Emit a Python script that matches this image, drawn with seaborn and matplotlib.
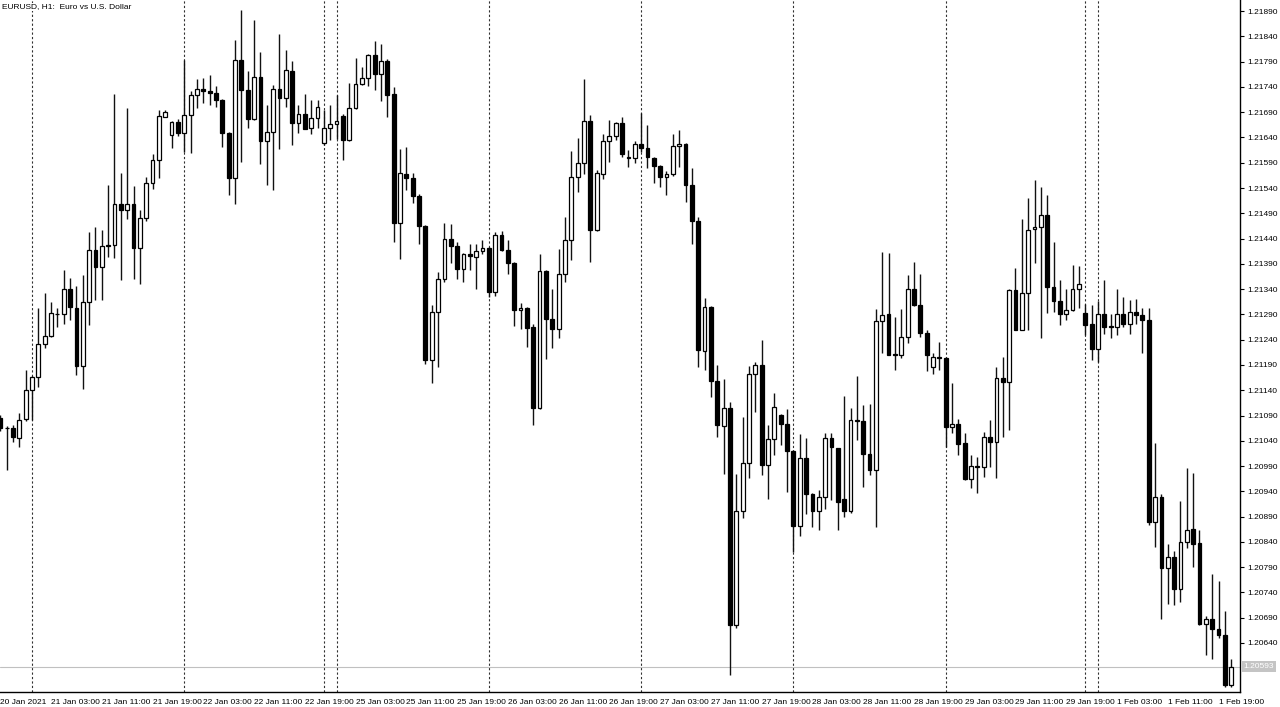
import matplotlib
matplotlib.use("Agg")
import matplotlib.pyplot as plt
import matplotlib.transforms as mtransforms
import seaborn as sns
import numpy as np

# ---------------- data (EURUSD H1, 20 Jan 2021 19:00 -> 1 Feb 2021 21:00) ----------------
opens = [
 1.21085,1.21065,1.21065,1.21045,1.21083,1.21140,1.21167,1.21231,1.21247,1.21290,
 1.21290,1.21340,1.21303,1.21188,1.21314,1.21417,1.21384,1.21425,1.21427,1.21508,
 1.21496,1.21508,1.21421,1.21481,1.21549,1.21595,1.21681,1.21645,1.21670,1.21648,
 1.21684,1.21725,1.21736,1.21732,1.21728,1.21714,1.21648,1.21560,1.21793,1.21733,
 1.21677,1.21760,1.21634,1.21650,1.21736,1.21719,1.21772,1.21668,1.21686,1.21658,
 1.21678,1.21630,1.21658,1.21666,1.21682,1.21636,1.21698,1.21745,1.21757,1.21803,
 1.21766,1.21791,1.21726,1.21470,1.21568,1.21560,1.21524,1.21465,1.21200,1.21295,
 1.21360,1.21439,1.21425,1.21380,1.21409,1.21404,1.21416,1.21422,1.21335,1.21448,
 1.21417,1.21391,1.21298,1.21303,1.21266,1.21105,1.21376,1.21281,1.21262,1.21370,
 1.21438,1.21561,1.21589,1.21672,1.21457,1.21568,1.21633,1.21643,1.21669,1.21601,
 1.21600,1.21627,1.21620,1.21600,1.21584,1.21561,1.21568,1.21623,1.21627,1.21546,
 1.21475,1.21218,1.21304,1.21159,1.21070,1.21104,1.20675,1.20902,1.20996,1.21172,
 1.21190,1.20993,1.21043,1.21091,1.21074,1.21020,1.20872,1.21006,1.20935,1.20902,
 1.20929,1.21045,1.21025,1.20925,1.20902,1.21082,1.21080,1.21014,1.20983,1.21277,
 1.21290,1.21211,1.21210,1.21245,1.21340,1.21308,1.21254,1.21185,1.21205,1.21203,
 1.21067,1.21074,1.21035,1.20964,1.20990,1.20988,1.21047,1.21037,1.21165,1.21157,
 1.21338,1.21260,1.21332,1.21458,1.21462,1.21487,1.21345,1.21316,1.21290,1.21299,
 1.21341,1.21292,1.21271,1.21221,1.21291,1.21266,1.21265,1.21290,1.21272,1.21295,
 1.21288,1.21278,1.20880,1.20929,1.20788,1.20811,1.20746,1.20840,1.20866,1.20837,
 1.20677,1.20687,1.20668,1.20655,1.20557]
highs = [
 1.21091,1.21069,1.21071,1.21095,1.21180,1.21169,1.21302,1.21333,1.21315,1.21302,
 1.21377,1.21363,1.21346,1.21367,1.21453,1.21463,1.21457,1.21546,1.21727,1.21569,
 1.21698,1.21544,1.21496,1.21561,1.21608,1.21694,1.21694,1.21673,1.21676,1.21793,
 1.21732,1.21755,1.21757,1.21763,1.21742,1.21716,1.21650,1.21833,1.21892,1.21772,
 1.21872,1.21810,1.21704,1.21744,1.21845,1.21813,1.21791,1.21704,1.21727,1.21714,
 1.21714,1.21694,1.21704,1.21724,1.21686,1.21748,1.21798,1.21779,1.21806,1.21831,
 1.21824,1.21795,1.21740,1.21618,1.21622,1.21570,1.21528,1.21467,1.21308,1.21374,
 1.21470,1.21469,1.21434,1.21411,1.21430,1.21430,1.21438,1.21424,1.21453,1.21455,
 1.21438,1.21393,1.21312,1.21305,1.21271,1.21409,1.21378,1.21341,1.21419,1.21483,
 1.21613,1.21639,1.21755,1.21684,1.21575,1.21646,1.21674,1.21671,1.21680,1.21615,
 1.21633,1.21688,1.21664,1.21602,1.21586,1.21574,1.21647,1.21655,1.21629,1.21579,
 1.21482,1.21322,1.21306,1.21190,1.21163,1.21117,1.20974,1.21088,1.21188,1.21196,
 1.21239,1.21071,1.21135,1.21093,1.21102,1.21022,1.21053,1.21046,1.20937,1.20942,
 1.21056,1.21056,1.21026,1.21129,1.21104,1.21168,1.21111,1.21112,1.21300,1.21414,
 1.21411,1.21285,1.21300,1.21368,1.21394,1.21370,1.21260,1.21214,1.21236,1.21205,
 1.21154,1.21084,1.21056,1.21012,1.21008,1.21058,1.21082,1.21186,1.21205,1.21340,
 1.21381,1.21478,1.21520,1.21556,1.21542,1.21527,1.21434,1.21359,1.21341,1.21388,
 1.21386,1.21310,1.21308,1.21316,1.21359,1.21290,1.21341,1.21325,1.21318,1.21320,
 1.21302,1.21302,1.21036,1.20935,1.20836,1.20821,1.20921,1.20986,1.20977,1.20863,
 1.20693,1.20776,1.20763,1.20704,1.20608]
lows = [
 1.21059,1.20982,1.21037,1.21027,1.21080,1.21081,1.21147,1.21223,1.21245,1.21265,
 1.21272,1.21279,1.21170,1.21142,1.21269,1.21318,1.21318,1.21404,1.21401,1.21358,
 1.21478,1.21361,1.21351,1.21475,1.21539,1.21559,1.21680,1.21620,1.21643,1.21612,
 1.21610,1.21698,1.21708,1.21705,1.21701,1.21622,1.21526,1.21508,1.21592,1.21659,
 1.21674,1.21587,1.21546,1.21537,1.21617,1.21701,1.21626,1.21649,1.21656,1.21646,
 1.21658,1.21625,1.21635,1.21637,1.21595,1.21634,1.21696,1.21743,1.21742,1.21734,
 1.21712,1.21681,1.21434,1.21400,1.21536,1.21510,1.21430,1.21192,1.21154,1.21186,
 1.21355,1.21391,1.21361,1.21355,1.21378,1.21341,1.21410,1.21325,1.21326,1.21415,
 1.21369,1.21268,1.21262,1.21226,1.21072,1.21102,1.21202,1.21223,1.21243,1.21355,
 1.21398,1.21533,1.21567,1.21393,1.21455,1.21558,1.21591,1.21636,1.21602,1.21582,
 1.21589,1.21611,1.21579,1.21549,1.21542,1.21526,1.21564,1.21582,1.21513,1.21430,
 1.21186,1.21181,1.21127,1.21048,1.20974,1.20577,1.20669,1.20887,1.20967,1.21097,
 1.20972,1.20924,1.21012,1.21031,1.20939,1.20820,1.20852,1.20896,1.20869,1.20863,
 1.20906,1.20923,1.20863,1.20890,1.20898,1.21041,1.20949,1.20972,1.20870,1.21213,
 1.21209,1.21180,1.21203,1.21233,1.21307,1.21246,1.21178,1.21173,1.21180,1.21028,
 1.21055,1.21012,1.20963,1.20946,1.20936,1.20969,1.20989,1.20966,1.21048,1.21061,
 1.21259,1.21259,1.21259,1.21391,1.21243,1.21292,1.21295,1.21269,1.21279,1.21297,
 1.21302,1.21249,1.21200,1.21196,1.21252,1.21243,1.21250,1.21266,1.21252,1.21272,
 1.21213,1.20873,1.20829,1.20687,1.20718,1.20715,1.20722,1.20827,1.20791,1.20675,
 1.20616,1.20608,1.20649,1.20552,1.20553]
closes = [
 1.21065,1.21066,1.21048,1.21082,1.21140,1.21167,1.21231,1.21247,1.21292,1.21291,
 1.21340,1.21305,1.21188,1.21314,1.21417,1.21384,1.21425,1.21427,1.21508,1.21496,
 1.21508,1.21421,1.21480,1.21549,1.21595,1.21682,1.21690,1.21670,1.21648,1.21684,
 1.21725,1.21735,1.21732,1.21728,1.21714,1.21648,1.21560,1.21793,1.21734,1.21676,
 1.21760,1.21633,1.21650,1.21736,1.21719,1.21773,1.21668,1.21686,1.21657,1.21678,
 1.21701,1.21658,1.21666,1.21672,1.21636,1.21698,1.21745,1.21757,1.21803,1.21765,
 1.21791,1.21725,1.21470,1.21569,1.21560,1.21524,1.21465,1.21200,1.21295,1.21361,
 1.21440,1.21425,1.21379,1.21409,1.21406,1.21416,1.21421,1.21335,1.21448,1.21417,
 1.21391,1.21299,1.21303,1.21264,1.21104,1.21376,1.21280,1.21262,1.21370,1.21438,
 1.21561,1.21590,1.21673,1.21457,1.21569,1.21633,1.21643,1.21669,1.21608,1.21599,
 1.21627,1.21620,1.21602,1.21584,1.21562,1.21568,1.21623,1.21627,1.21546,1.21475,
 1.21220,1.21304,1.21159,1.21071,1.21104,1.20675,1.20902,1.20996,1.21172,1.21190,
 1.20992,1.21043,1.21107,1.21074,1.21020,1.20872,1.21006,1.20935,1.20902,1.20929,
 1.21045,1.21027,1.20919,1.20902,1.21082,1.21080,1.21014,1.20982,1.21277,1.21289,
 1.21210,1.21209,1.21245,1.21340,1.21308,1.21254,1.21210,1.21205,1.21204,1.21067,
 1.21074,1.21034,1.20964,1.20990,1.20989,1.21048,1.21038,1.21165,1.21157,1.21338,
 1.21260,1.21332,1.21457,1.21463,1.21487,1.21345,1.21316,1.21290,1.21299,1.21341,
 1.21350,1.21270,1.21221,1.21290,1.21266,1.21265,1.21290,1.21272,1.21295,1.21288,
 1.21279,1.20880,1.20929,1.20788,1.20811,1.20746,1.20840,1.20863,1.20836,1.20677,
 1.20687,1.20668,1.20656,1.20557,1.20593]

# time-axis labels (every 8th hourly bar) and period separators (bar index)
tick_bars = [0, 8, 16, 24, 32, 40, 48, 56, 64, 72, 80, 88, 96, 104, 112, 120,
             128, 136, 144, 152, 160, 168, 176, 184, 192]
tick_labels = ["20 Jan 2021", "21 Jan 03:00", "21 Jan 11:00", "21 Jan 19:00",
               "22 Jan 03:00", "22 Jan 11:00", "22 Jan 19:00", "25 Jan 03:00",
               "25 Jan 11:00", "25 Jan 19:00", "26 Jan 03:00", "26 Jan 11:00",
               "26 Jan 19:00", "27 Jan 03:00", "27 Jan 11:00", "27 Jan 19:00",
               "28 Jan 03:00", "28 Jan 11:00", "28 Jan 19:00", "29 Jan 03:00",
               "29 Jan 11:00", "29 Jan 19:00", "1 Feb 03:00", "1 Feb 11:00",
               "1 Feb 19:00"]
separators = [5, 29, 51, 53, 77, 101, 125, 149, 171, 173]
price_ticks = [1.20640, 1.20690, 1.20740, 1.20790, 1.20840, 1.20890, 1.20940,
               1.20990, 1.21040, 1.21090, 1.21140, 1.21190, 1.21240, 1.21290,
               1.21340, 1.21390, 1.21440, 1.21490, 1.21540, 1.21590, 1.21640,
               1.21690, 1.21740, 1.21790, 1.21840, 1.21890]
last_price = 1.20593
title = "EURUSD, H1:  Euro vs U.S. Dollar"

# ---------------- drawing ----------------
sns.set_theme(style="white")
plt.rcParams["font.family"] = ["Liberation Sans", "DejaVu Sans"]

W, H = 1280, 707
fig = plt.figure(figsize=(W / 100, H / 100), dpi=100)
fig.patch.set_facecolor("white")
ax = fig.add_axes([0, 15 / H, 1240 / W, 692 / H])
ax.set_facecolor("white")

o = np.array(opens); h = np.array(highs); l = np.array(lows); c = np.array(closes)
idx = np.arange(len(o))
bull = c >= o

# separators
for s in separators:
    ax.axvline(s, color="#303030", lw=0.8, ls=(0, (2, 2)), zorder=1)

# current price line
ax.axhline(last_price, color="#c0c0c0", lw=0.8, zorder=1)

# wicks
ax.vlines(idx, l, h, color="#111111", lw=1.0, zorder=2)

# bodies
body_w = 0.6
min_h = 0.000012
bottoms = np.minimum(o, c)
heights = np.maximum(np.abs(c - o), min_h)
ax.bar(idx[bull], heights[bull], bottom=bottoms[bull], width=body_w,
       color="white", edgecolor="black", linewidth=0.9, zorder=3)
ax.bar(idx[~bull], heights[~bull], bottom=bottoms[~bull], width=body_w,
       color="black", edgecolor="black", linewidth=0.9, zorder=3)

# scales
px = 6.345
ax.set_xlim(-0.27 / px, (1240 - 0.27) / px)
ax.set_ylim(1.20543, 1.21912)

# spines
for side in ["left", "top"]:
    ax.spines[side].set_visible(False)
for side in ["right", "bottom"]:
    ax.spines[side].set_visible(True)
    ax.spines[side].set_color("black")
    ax.spines[side].set_linewidth(1.0)

FS = 6.0
# y axis on right
ax.yaxis.tick_right()
ax.set_yticks(price_ticks)
ax.set_yticklabels([f"{p:.5f}" for p in price_ticks])
ax.tick_params(axis="y", direction="out", length=3, width=0.8, pad=2,
               labelsize=FS, colors="black")

# x axis
ax.set_xticks(tick_bars)
ax.set_xticklabels(tick_labels)
ax.tick_params(axis="x", direction="out", length=3, width=0.8, pad=2,
               labelsize=FS, colors="black")
for lbl in ax.get_xticklabels():
    lbl.set_ha("left")

ax.grid(False)

# last price tag
trans = mtransforms.blended_transform_factory(ax.transAxes, ax.transData)
ax.text(1.003, last_price, f"{last_price:.5f}", transform=trans, ha="left",
        va="center", fontsize=FS, color="white", clip_on=False,
        bbox=dict(facecolor="#c4c4c4", edgecolor="none", pad=1.5), zorder=5)

# title
ax.text(0.002, 0.995, title, transform=ax.transAxes, ha="left", va="top",
        fontsize=FS, color="black", zorder=6,
        bbox=dict(facecolor="white", edgecolor="none", pad=0.5))

fig.savefig("out.png", dpi=100, facecolor="white")
